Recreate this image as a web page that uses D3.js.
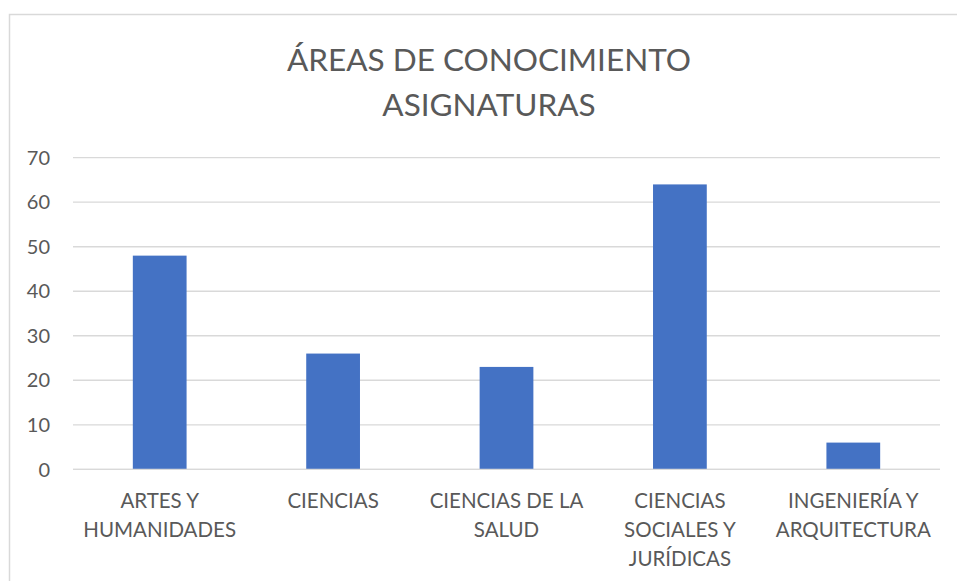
<!DOCTYPE html>
<meta charset="utf-8">
<style>
  body { margin: 0; background: white; }
  text { font-family: Lato, "Open Sans", sans-serif; fill: #595959; }
</style>
<script src="https://cdn.jsdelivr.net/npm/d3@7"></script>
<body>
<div id="chart"></div>
<script>
  // data
  const categories = [
    ["ARTES Y", "HUMANIDADES"],
    ["CIENCIAS"],
    ["CIENCIAS DE LA", "SALUD"],
    ["CIENCIAS", "SOCIALES Y", "JURÍDICAS"],
    ["INGENIERÍA Y", "ARQUITECTURA"]
  ];
  const values = [48, 26, 23, 64, 6];
  const yTicks = [0, 10, 20, 30, 40, 50, 60, 70];
  const titleLines = ["ÁREAS DE CONOCIMIENTO", "ASIGNATURAS"];

  const width = 957, height = 581;
  const plot = {left: 73, right: 940, top: 157.7, bottom: 469.3};

  const svg = d3.select("#chart").append("svg")
    .attr("width", width)
    .attr("height", height);

  // chart frame
  svg.append("rect")
    .attr("x", 9.5).attr("y", 14.5)
    .attr("width", 980).attr("height", 600)
    .attr("fill", "white")
    .attr("stroke", "#d9d9d9")
    .attr("stroke-width", 1.5);

  const x = d3.scaleBand()
    .domain(d3.range(categories.length))
    .range([plot.left, plot.right])
    .paddingInner(0.69)
    .paddingOuter(0.345);

  const y = d3.scaleLinear()
    .domain([0, 70])
    .range([plot.bottom, plot.top]);

  // gridlines
  svg.append("g")
    .selectAll("line")
    .data(yTicks)
    .join("line")
      .attr("x1", plot.left)
      .attr("x2", plot.right)
      .attr("y1", d => y(d))
      .attr("y2", d => y(d))
      .attr("stroke", "#d9d9d9")
      .attr("stroke-width", 1.3);

  // y labels
  svg.append("g")
    .selectAll("text")
    .data(yTicks)
    .join("text")
      .attr("x", 50)
      .attr("y", d => y(d))
      .attr("dy", "0.36em")
      .attr("text-anchor", "end")
      .attr("font-size", "20px")
      .text(d => d);

  // bars
  svg.append("g")
    .selectAll("rect")
    .data(values)
    .join("rect")
      .attr("x", (d, i) => x(i))
      .attr("y", d => y(d))
      .attr("width", x.bandwidth())
      .attr("height", d => y(0) - y(d))
      .attr("fill", "#4472c4");

  // axis line
  svg.append("line")
    .attr("x1", plot.left).attr("x2", plot.right)
    .attr("y1", y(0)).attr("y2", y(0))
    .attr("stroke", "#d9d9d9")
    .attr("stroke-width", 1.3);

  // category labels
  const cat = svg.append("g")
    .selectAll("text")
    .data(categories)
    .join("text")
      .attr("text-anchor", "middle")
      .attr("font-size", "20.5px")
      .attr("x", (d, i) => x(i) + x.bandwidth() / 2)
      .attr("y", 508);
  cat.selectAll("tspan")
    .data((d, i) => d.map(t => ({t, i})))
    .join("tspan")
      .attr("x", d => x(d.i) + x.bandwidth() / 2)
      .attr("dy", (d, j) => j === 0 ? 0 : 29)
      .text(d => d.t);

  // title
  svg.append("g")
    .selectAll("text")
    .data(titleLines)
    .join("text")
      .attr("x", 489)
      .attr("y", (d, i) => 71 + i * 45)
      .attr("text-anchor", "middle")
      .attr("font-size", "31.5px")
      .text(d => d);
</script>
</body>
